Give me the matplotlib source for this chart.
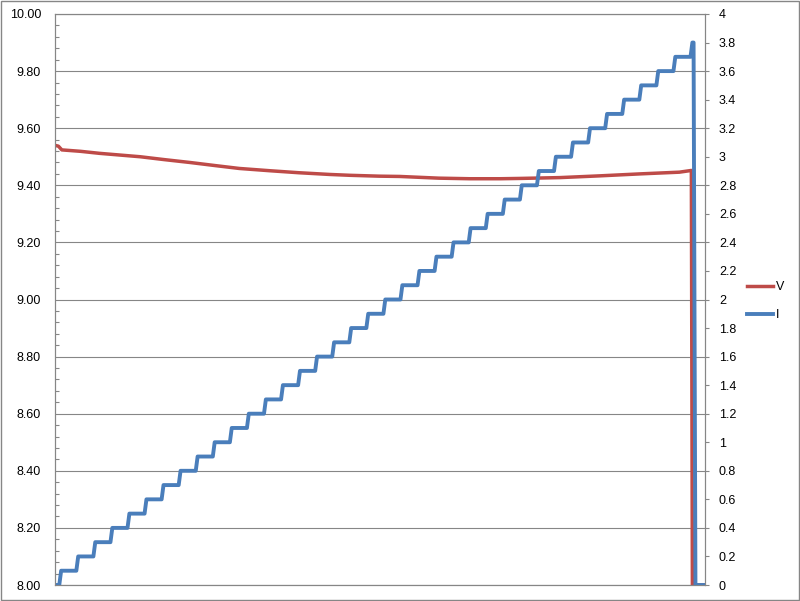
import matplotlib.pyplot as plt
from matplotlib.patches import Rectangle
from matplotlib.ticker import MultipleLocator, FormatStrFormatter, FuncFormatter

plt.rcParams['font.family'] = ['Liberation Sans', 'DejaVu Sans']

# voltage (left axis), sample index vs volts
V_x = [0, 2, 4, 15, 26, 38, 50, 64, 79, 94, 108, 126, 143, 161, 173, 190,
       202, 225, 243, 261, 272, 296, 319, 343, 366, 373, 373.6, 381]
V_y = [9.540, 9.537, 9.524, 9.519, 9.512, 9.506, 9.500, 9.490, 9.480, 9.469,
       9.459, 9.451, 9.444, 9.438, 9.435, 9.432, 9.431, 9.425, 9.423, 9.423,
       9.424, 9.427, 9.433, 9.440, 9.446, 9.452, 8.0, 8.0]

# current (right axis): sample where each new level starts, and the level
I_rise = [2.5, 12.5, 22.5, 32.5, 42.5, 52.5, 62.5, 72.5, 82.5, 92.5,
          102.5, 112.5, 122.5, 132.5, 142.5, 152.5, 162.5, 172.5, 182.5, 192.5,
          202.5, 212.5, 222.5, 232.5, 242.5, 252.5, 262.5, 272.5, 282.5, 292.5,
          302.5, 312.5, 322.5, 332.5, 342.5, 352.5, 362.5, 372.5, 374.3]
I_level = [0.1, 0.2, 0.3, 0.4, 0.5, 0.6, 0.7, 0.8, 0.9, 1.0,
           1.1, 1.2, 1.3, 1.4, 1.5, 1.6, 1.7, 1.8, 1.9, 2.0,
           2.1, 2.2, 2.3, 2.4, 2.5, 2.6, 2.7, 2.8, 2.9, 3.0,
           3.1, 3.2, 3.3, 3.4, 3.5, 3.6, 3.7, 3.8, 0.0]
I_start = 0.0
x_end = 381

# staircase polyline with short sloped risers
ix, iy = [0], [I_start]
prev = I_start
for r, lv in zip(I_rise, I_level):
    ix += [r, r + 1.1]
    iy += [prev, lv]
    prev = lv
ix.append(x_end)
iy.append(prev)

red = '#BE4B48'
blue = '#4A7EBB'
grid_c = '#868686'

fig = plt.figure(figsize=(8, 6.01), dpi=100)
ax = fig.add_axes([55 / 800, 16 / 601, 650 / 800, 571 / 601])
ax2 = ax.twinx()

lv, = ax.plot(V_x, V_y, color=red, lw=2.5, label='V', solid_joinstyle='round')
li, = ax2.plot(ix, iy, color=blue, lw=2.8, label='I', solid_joinstyle='round')

ax.set_xlim(0, x_end)
ax.set_ylim(8.0, 10.0)
ax2.set_ylim(0, 4)

ax.yaxis.set_major_locator(MultipleLocator(0.2))
ax.yaxis.set_minor_locator(MultipleLocator(0.04))
ax.yaxis.set_major_formatter(FormatStrFormatter('%.2f'))
ax.grid(axis='y', color=grid_c, lw=0.8)
ax.set_axisbelow(True)
ax.tick_params(axis='y', which='major', length=0, pad=10, labelsize=9)
ax.tick_params(axis='y', which='minor', direction='in', length=3, color=grid_c, width=0.8)
ax.tick_params(axis='x', which='both', length=0, labelbottom=False)

ax2.yaxis.set_major_locator(MultipleLocator(0.2))
ax2.yaxis.set_major_formatter(FuncFormatter(lambda v, p: '%g' % round(v, 1)))
ax2.tick_params(axis='y', direction='out', length=3, color=grid_c, width=0.8,
                pad=7, labelsize=9)

for a in (ax, ax2):
    for s in a.spines.values():
        s.set_color(grid_c)
        s.set_linewidth(0.8)

fig.legend([lv, li], ['V', 'I'], loc='center left',
           bbox_to_anchor=(747 / 800, 1 - 301 / 601), frameon=False,
           fontsize=9, handlelength=2.1, handletextpad=0.2,
           labelspacing=1.3, borderpad=0, borderaxespad=0)

fig.patches.append(Rectangle((0.001, 0.001), 0.998, 0.997, transform=fig.transFigure,
                             fill=False, edgecolor=grid_c, lw=1))

fig.savefig('out.png', dpi=100)
